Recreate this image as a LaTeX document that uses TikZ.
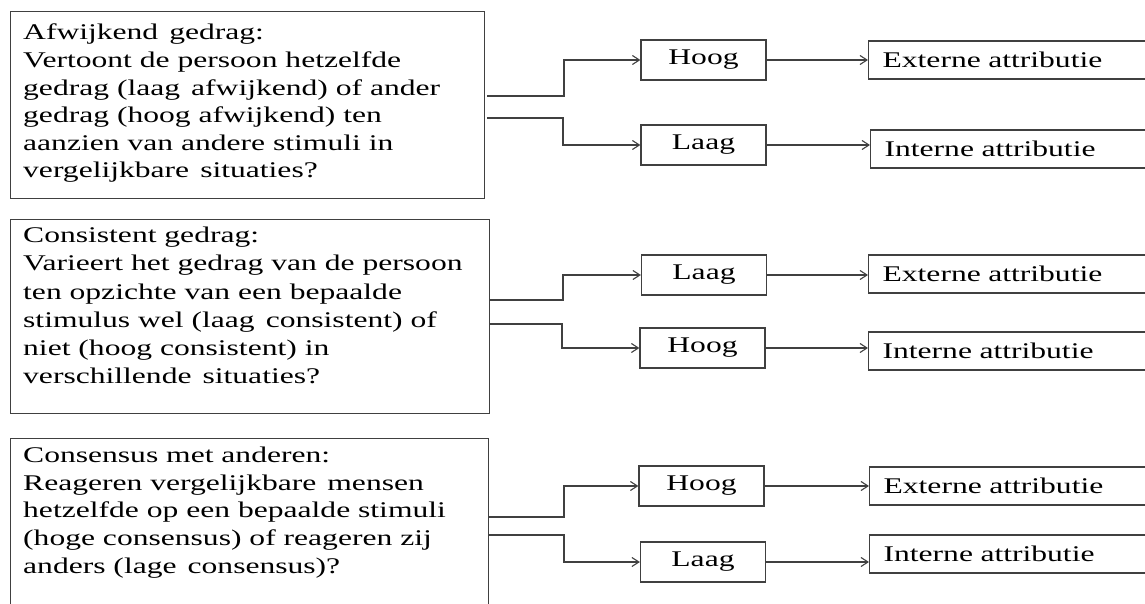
\documentclass[tikz,border=0pt]{standalone}
\usepackage{fontspec}
\setmainfont{Liberation Serif}[FakeStretch=1.41]
\usetikzlibrary{arrows.meta,calc}
\newcommand\wsp{\hspace{11pt}}
\begin{document}
\begin{tikzpicture}[x=1pt,y=-1pt,
  every node/.style={font=\fontsize{22.4}{27.6}\selectfont, text=black},
  line/.style={draw=black!75, line width=1.2pt},
  qbox/.style={line, rectangle, anchor=north west, inner sep=0pt, minimum width=#1},
  qtext/.style={anchor=north west, align=left, inner sep=0pt},
  vbox/.style={line, rectangle, minimum width=125pt, minimum height=40pt, inner sep=0pt},
  abox/.style={line, rectangle, anchor=west, text width=290pt, minimum height=38pt, inner xsep=14pt, inner ysep=0pt, align=left},
  arr/.style={draw=black!75, line width=1.1pt, -{Straight Barb[length=7pt,width=9pt]}}
]
\useasboundingbox (0,0) rectangle (1145,604);

% ---------- Group 1 ----------
\node[qbox=474pt, minimum height=187pt] (q1) at (10,11) {};
\node[qtext] (t1) at ([xshift=13pt,yshift=-13pt]q1.north west)
  {Afwijkend\wsp gedrag:\\Vertoont de persoon hetzelfde\\gedrag (laag\wsp afwijkend) of ander\\gedrag (hoog afwijkend) ten\\aanzien van andere stimuli in\\vergelijkbare\wsp situaties?};
\node[vbox] (h1) at (703.5,60) {Hoog};
\node[vbox] (l1) at (703.5,145) {Laag};
\node[abox] (e1) at (868,60) {Externe attributie};
\node[abox] (i1) at (870,149) {Interne attributie};
\coordinate (s1a) at (487,96);
\coordinate (s1b) at (487,118);
\draw[arr] (s1a) -- ++(77,0) |- (h1.west);
\draw[arr] (s1b) -- ++(76,0) |- (l1.west);
\draw[arr] (h1.east) -- (h1.east -| e1.west);
\draw[arr] (l1.east) -- (l1.east -| i1.west);

% ---------- Group 2 ----------
\node[qbox=479pt, minimum height=194pt] (q2) at (10,219) {};
\node[qtext, font=\fontsize{22.4}{28.2}\selectfont] (t2) at ([xshift=13pt,yshift=-8pt]q2.north west)
  {Consistent gedrag:\\Varieert het gedrag van de persoon\\ten opzichte van een bepaalde\\stimulus wel (laag\wsp consistent) of\\niet (hoog consistent) in\\verschillende\wsp situaties?};
\node[vbox] (l2) at (704,275) {Laag};
\node[vbox] (h2) at (702.5,348) {Hoog};
\node[abox] (e2) at (868,274) {Externe attributie};
\node[abox] (i2) at (868,351) {Interne attributie};
\coordinate (s2a) at (490,300);
\coordinate (s2b) at (490,324);
\draw[arr] (s2a) -- ++(73,0) |- (l2.west);
\draw[arr] (s2b) -- ++(72,0) |- (h2.west);
\draw[arr] (l2.east) -- (l2.east -| e2.west);
\draw[arr] (h2.east) -- (h2.east -| i2.west);

% ---------- Group 3 ----------
\node[qbox=478pt, minimum height=190pt] (q3) at (10,438) {};
\node[qtext] (t3) at ([xshift=13pt,yshift=-9pt]q3.north west)
  {Consensus met anderen:\\Reageren vergelijkbare\wsp mensen\\hetzelfde op een bepaalde stimuli\\(hoge consensus) of reageren zij\\anders (lage\wsp consensus)?};
\node[vbox] (h3) at (701.5,486) {Hoog};
\node[vbox] (l3) at (703,562) {Laag};
\node[abox] (e3) at (869,486) {Externe attributie};
\node[abox] (i3) at (869,554) {Interne attributie};
\coordinate (s3a) at (489,517);
\coordinate (s3b) at (489,535);
\draw[arr] (s3a) -- ++(75,0) |- (h3.west);
\draw[arr] (s3b) -- ++(75,0) |- (l3.west);
\draw[arr] (h3.east) -- (h3.east -| e3.west);
\draw[arr] (l3.east) -- (l3.east -| i3.west);
\end{tikzpicture}
\end{document}
